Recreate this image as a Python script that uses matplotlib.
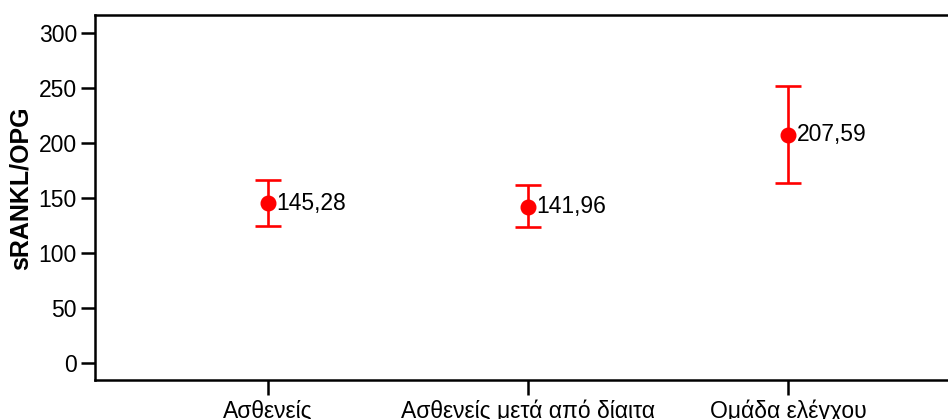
import matplotlib
matplotlib.use("Agg")
import matplotlib.pyplot as plt

# Group means with lower/upper error bounds
groups = ["Ασθενείς", "Ασθενείς μετά από δίαιτα", "Ομάδα ελέγχου"]
means = [145.28, 141.96, 207.59]
lower = [124.8, 123.3, 163.9]
upper = [166.4, 161.8, 252.3]
mean_labels = ["145,28", "141,96", "207,59"]

plt.rcParams["font.family"] = ["Liberation Sans", "DejaVu Sans"]

W, H = 948, 419
fig = plt.figure(figsize=(W / 100, H / 100), dpi=100)
ax = fig.add_axes([95 / W, (H - 380) / H, (961 - 95) / W, (380 - 15) / H])

x = list(range(len(groups)))
yerr = [[m - lo for m, lo in zip(means, lower)],
        [up - m for m, up in zip(means, upper)]]
ax.errorbar(x, means, yerr=yerr, fmt="o", color="red", ecolor="red",
            markersize=10.5, elinewidth=1.9, capsize=9.7, capthick=1.9)

for xi, m, lab in zip(x, means, mean_labels):
    ax.annotate(lab, (xi, m), xytext=(6, 0), textcoords="offset points",
                ha="left", va="center", fontsize=16.5)

ax.set_xlim(-0.665, 2.665)
ax.set_ylim(-15.8, 316.7)
ax.set_xticks(x)
ax.set_xticklabels(groups, fontsize=16.5)
ax.set_yticks(range(0, 301, 50))
ax.tick_params(axis="y", labelsize=16.5, length=10, width=1.8, pad=3)
ax.tick_params(axis="x", length=11, width=1.8, pad=3)
ax.set_ylabel("sRANKL/OPG", fontsize=18, fontweight="bold", labelpad=4, y=0.525)

for sp in ax.spines.values():
    sp.set_linewidth(1.8)

fig.savefig("out.png", dpi=100)
